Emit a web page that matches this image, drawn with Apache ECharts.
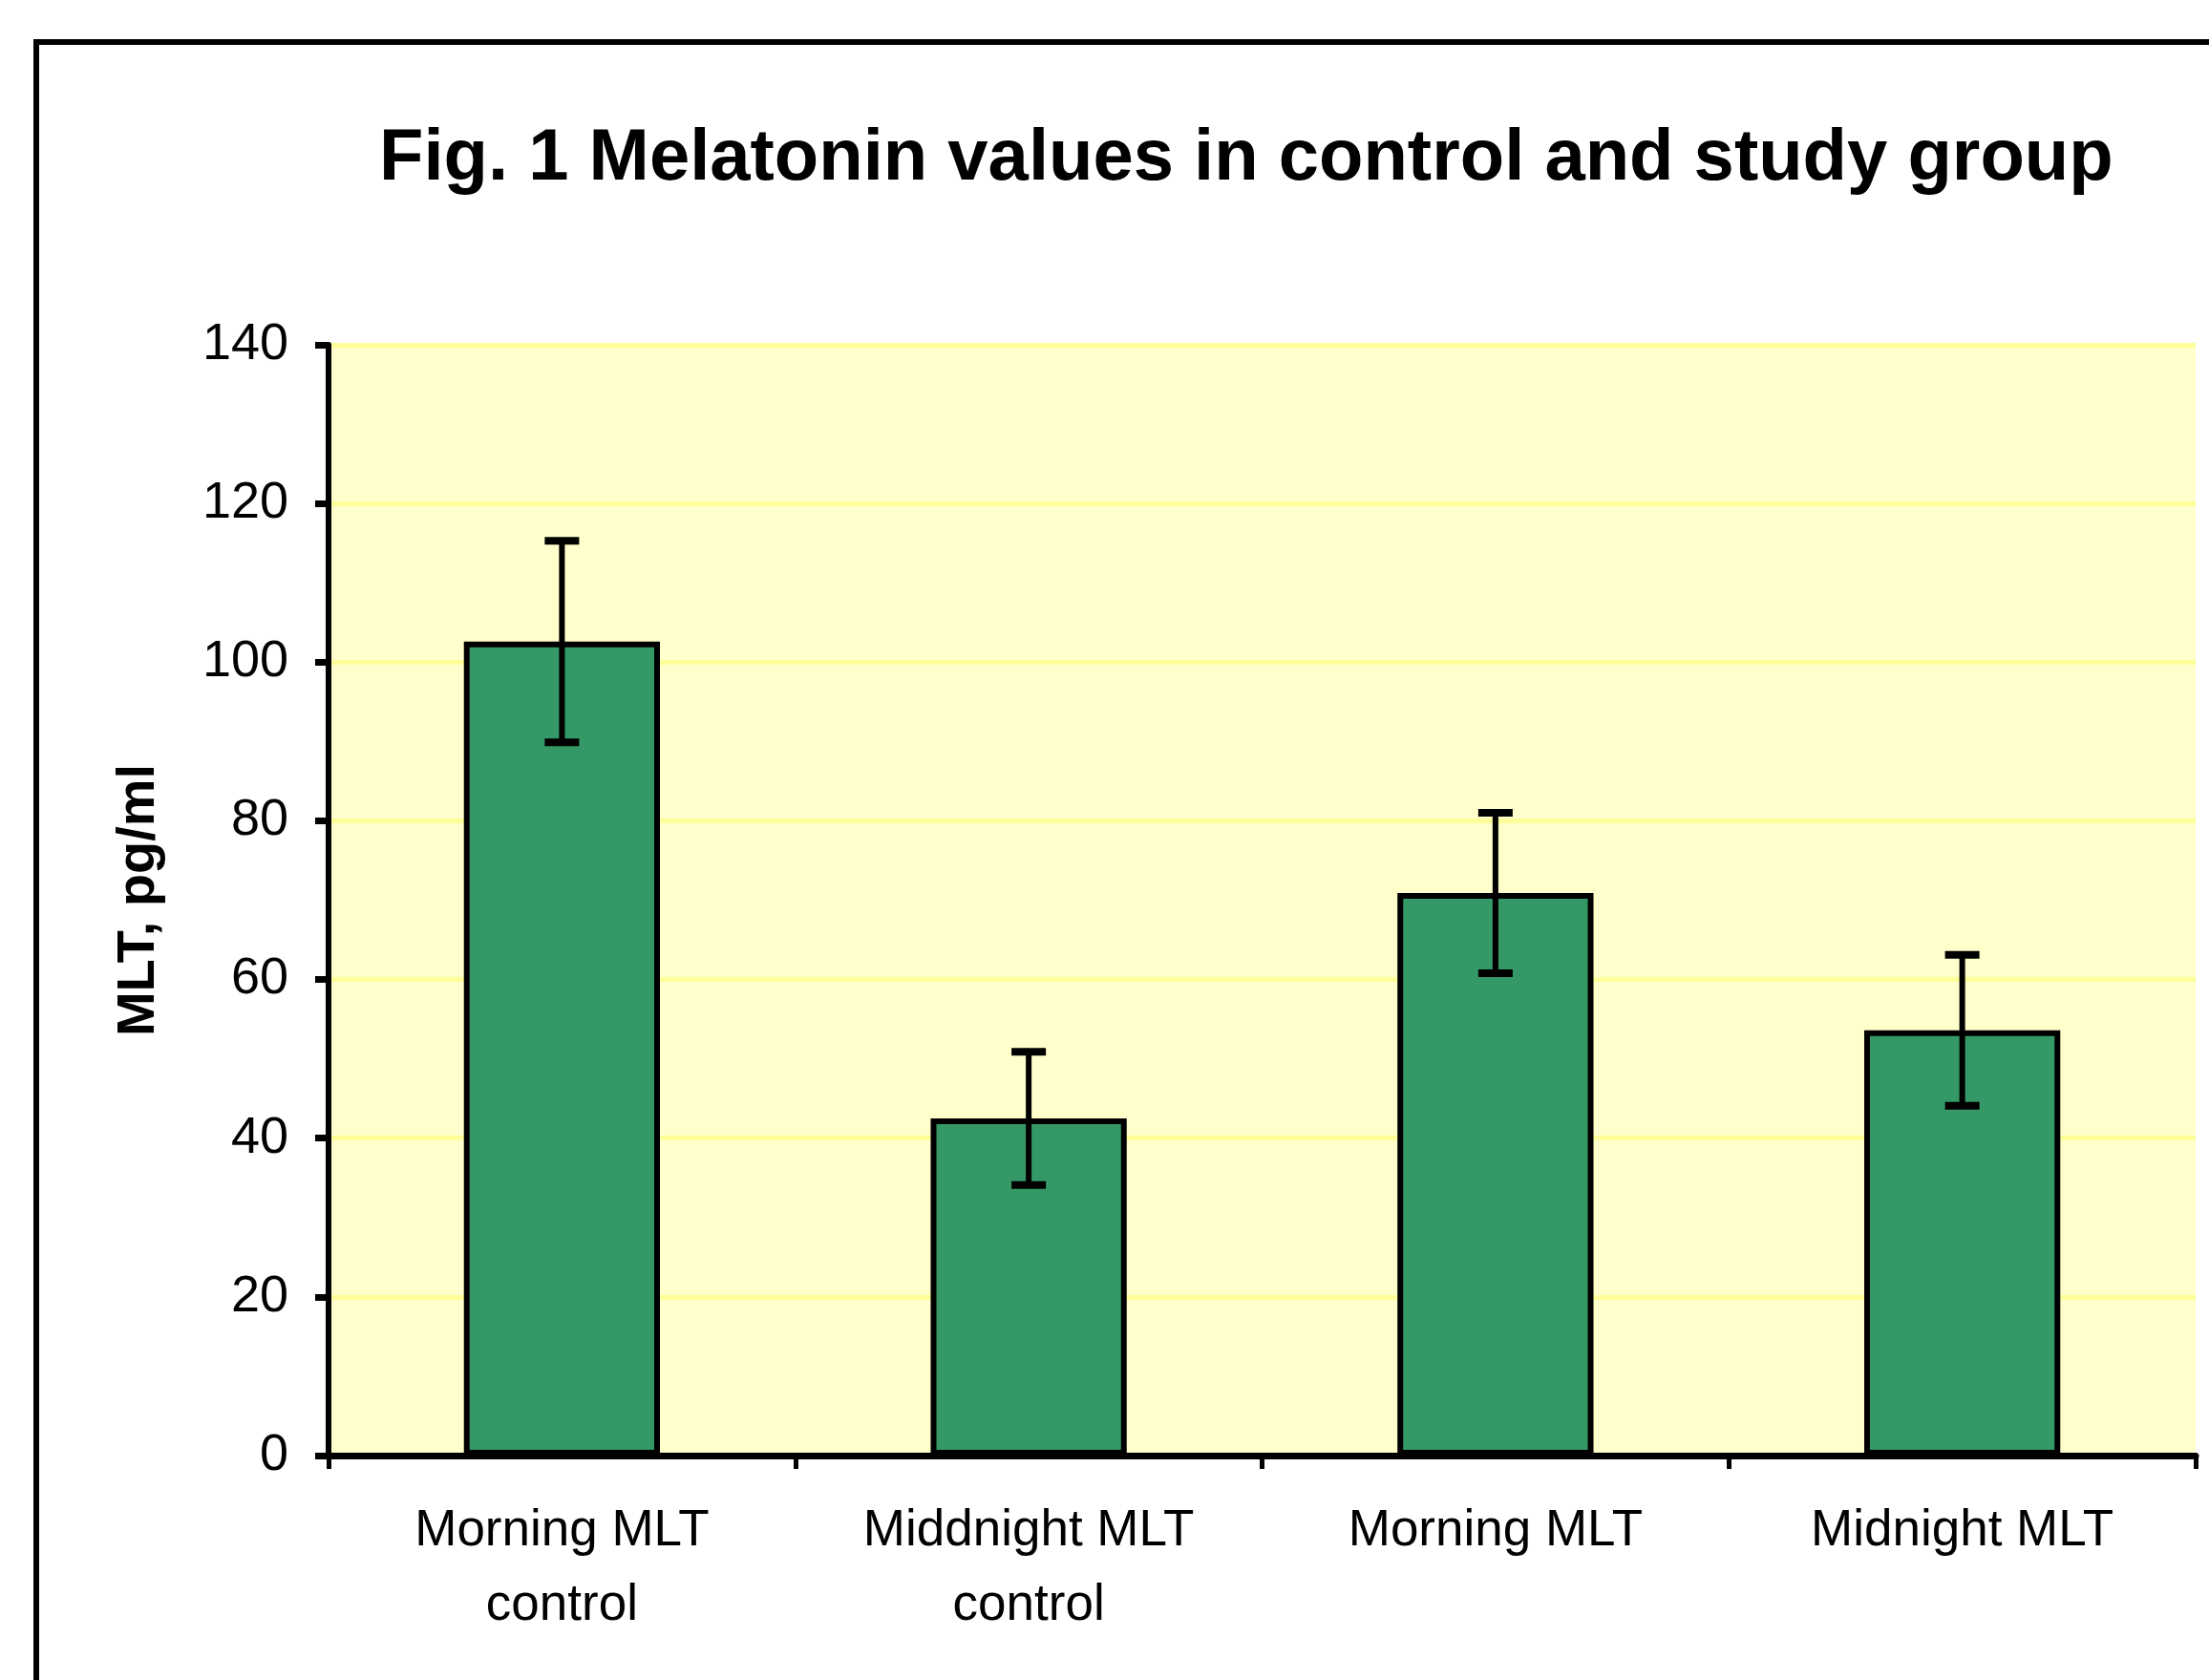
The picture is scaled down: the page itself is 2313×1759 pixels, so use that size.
<!DOCTYPE html>
<html>
<head>
<meta charset="utf-8">
<script src="https://cdn.jsdelivr.net/npm/echarts@6/dist/echarts.min.js"></script>
<style>
  html, body { margin: 0; padding: 0; background: #ffffff; }
  #chart { width: 2313px; height: 1759px; }
</style>
</head>
<body>
<div id="chart"></div>
<script>
// values
const categories = ['Morning MLT\ncontrol', 'Middnight MLT\ncontrol', 'Morning MLT', 'Midnight MLT']
const meanValues = [102.6, 42.5, 70.9, 53.6]
const errValues = [12.7, 8.4, 10.1, 9.5]
const yTicks = { min: 0, max: 140, interval: 20 }

const FONT = '"Liberation Sans", Arial, sans-serif'

const chart = echarts.init(document.getElementById('chart'))

const errData = meanValues.map((v, i) => [i, v - errValues[i], v + errValues[i]])

const option = {
  backgroundColor: '#ffffff',
  animation: false,
  title: {
    text: 'Fig. 1 Melatonin values in control and study group',
    left: 392,
    top: 124,
    textStyle: {
      fontFamily: FONT,
      fontSize: 76,
      fontWeight: 'bold',
      color: '#000000'
    }
  },
  graphic: [
    {
      // outer frame of the figure (runs off the right and bottom edge)
      type: 'rect',
      shape: { x: 38, y: 44, width: 2600, height: 2200 },
      style: { fill: null, stroke: '#000000', lineWidth: 6 },
      z: -1
    }
  ],
  grid: {
    left: 344,
    right: 14,
    top: 361,
    bottom: 235,
    show: true,
    backgroundColor: '#FFFFCC',
    borderWidth: 0
  },
  xAxis: {
    type: 'category',
    data: categories,
    axisLine: { lineStyle: { color: '#000000', width: 7 } },
    axisTick: { show: true, length: 14, lineStyle: { color: '#000000', width: 5 } },
    axisLabel: {
      fontFamily: FONT,
      fontSize: 53,
      color: '#000000',
      lineHeight: 78,
      margin: 40
    }
  },
  yAxis: {
    type: 'value',
    min: yTicks.min,
    max: yTicks.max,
    interval: yTicks.interval,
    name: 'MLT, pg/ml',
    nameLocation: 'middle',
    nameGap: 170,
    nameRotate: 90,
    nameTextStyle: {
      fontFamily: FONT,
      fontSize: 56,
      fontWeight: 'bold',
      color: '#000000'
    },
    axisLine: { show: true, lineStyle: { color: '#000000', width: 6 } },
    axisTick: { show: true, length: 14, lineStyle: { color: '#000000', width: 7 } },
    axisLabel: {
      fontFamily: FONT,
      fontSize: 54,
      color: '#000000',
      margin: 42
    },
    splitLine: { show: true, lineStyle: { color: '#FFFF99', width: 5 } }
  },
  series: [
    {
      type: 'bar',
      data: meanValues,
      barWidth: '42%',
      itemStyle: {
        color: '#349966',
        borderColor: '#000000',
        borderWidth: 6
      },
      z: 2
    },
    {
      type: 'custom',
      data: errData,
      z: 5,
      renderItem: (params, api) => {
        const x = api.value(0)
        const lo = api.coord([x, api.value(1)])
        const hi = api.coord([x, api.value(2)])
        const half = 18
        const capStyle = { stroke: '#000000', lineWidth: 8 }
        return {
          type: 'group',
          children: [
            { type: 'line', shape: { x1: lo[0], y1: lo[1], x2: hi[0], y2: hi[1] }, style: { stroke: '#000000', lineWidth: 6 } },
            { type: 'line', shape: { x1: hi[0] - half, y1: hi[1], x2: hi[0] + half, y2: hi[1] }, style: capStyle },
            { type: 'line', shape: { x1: lo[0] - half, y1: lo[1], x2: lo[0] + half, y2: lo[1] }, style: capStyle }
          ]
        }
      }
    }
  ]
}

chart.setOption(option)
</script>
</body>
</html>
